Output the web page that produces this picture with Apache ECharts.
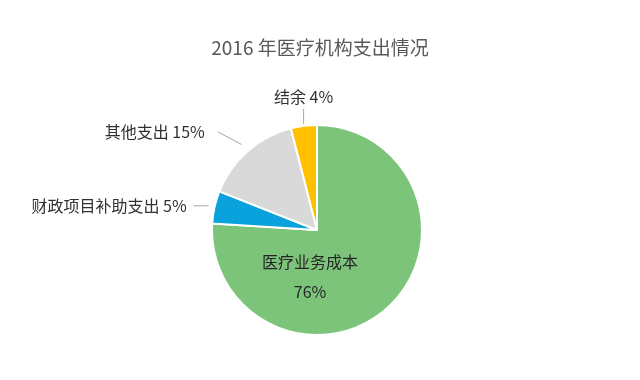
<!DOCTYPE html>
<html>
<head>
<meta charset="utf-8">
<style>
  html, body { margin: 0; padding: 0; background: #fff; }
  #chart { width: 640px; height: 380px; }
</style>
<script src="https://cdn.jsdelivr.net/npm/echarts@6/dist/echarts.min.js"></script>
</head>
<body>
<div id="chart"></div>
<script>
// Spending breakdown of medical institutions, 2016 (percent)
const categories = ['医疗业务成本', '财政项目补助支出', '其他支出', '结余'];
const values = [76, 5, 15, 4];
const colors = ['#7DC47B', '#0AA2DC', '#D9D9D9', '#FFC000'];

const CX = 317, CY = 230, R = 105;
const FONT = '"Noto Sans CJK SC", "Noto Sans", sans-serif';

// leader line styling per outside label: gap from slice edge, line length,
// gap to text, and how much the radial direction is squashed on x / y
const leader = {
  '财政项目补助支出': { start: 6, len: 15, textGap: 7, sx: 1, sy: 0 },
  '其他支出': { start: 9, len: 27, textGap: 13, sx: 1, sy: 0.47 },
  '结余': { start: 2, len: 15, textGap: 4, sx: 0, sy: 1 }
};

const total = values.reduce((a, b) => a + b, 0);
// mid-angle of each slice, measured clockwise from 12 o'clock
const midAngles = [];
let acc = 0;
values.forEach(v => {
  midAngles.push((acc + v / 2) / total * 2 * Math.PI);
  acc += v;
});

const chart = echarts.init(document.getElementById('chart'));
chart.setOption({
  backgroundColor: '#fff',
  animation: false,
  title: {
    text: '2016 年医疗机构支出情况',
    left: 'center',
    top: 33,
    textStyle: { fontFamily: FONT, fontSize: 19, fontWeight: 'normal', color: '#595959' }
  },
  series: [{
    type: 'pie',
    center: [CX, CY],
    radius: R,
    startAngle: 90,
    clockwise: true,
    itemStyle: { borderColor: '#fff', borderWidth: 2 },
    label: {
      show: true,
      position: 'outside',
      formatter: '{b} {d}%',
      fontFamily: FONT,
      fontSize: 16,
      color: '#303030'
    },
    labelLine: {
      show: true,
      length: 10,
      length2: 0,
      lineStyle: { color: '#A6A6A6', width: 1 }
    },
    labelLayout: function (params) {
      const i = params.dataIndex;
      if (i === 0) {
        return { x: CX - 7, y: CY + 47, align: 'center', verticalAlign: 'middle' };
      }
      const cfg = leader[categories[i]];
      const a = midAngles[i];
      const ux = Math.sin(a), uy = -Math.cos(a);
      const sx = CX + ux * (R + cfg.start), sy = CY + uy * (R + cfg.start);
      let dx = ux * cfg.sx, dy = uy * cfg.sy;
      const n = Math.hypot(dx, dy);
      dx /= n; dy /= n;
      const ex = sx + dx * cfg.len, ey = sy + dy * cfg.len;
      const pts = [[sx, sy], [ex, ey], [ex, ey]];
      if (Math.abs(dy) > 0.9) {
        return { x: ex, y: ey - cfg.textGap, align: 'center', verticalAlign: 'bottom', labelLinePoints: pts };
      }
      return { x: ex - cfg.textGap, y: ey, align: 'right', verticalAlign: 'middle', labelLinePoints: pts };
    },
    data: categories.map((name, i) => {
      const d = { name: name, value: values[i], itemStyle: { color: colors[i] } };
      if (i === 0) {
        d.label = { position: 'inside', formatter: '{b}\n{d}%', lineHeight: 30, fontSize: 16, color: '#262626' };
      }
      return d;
    })
  }]
});
</script>
</body>
</html>
